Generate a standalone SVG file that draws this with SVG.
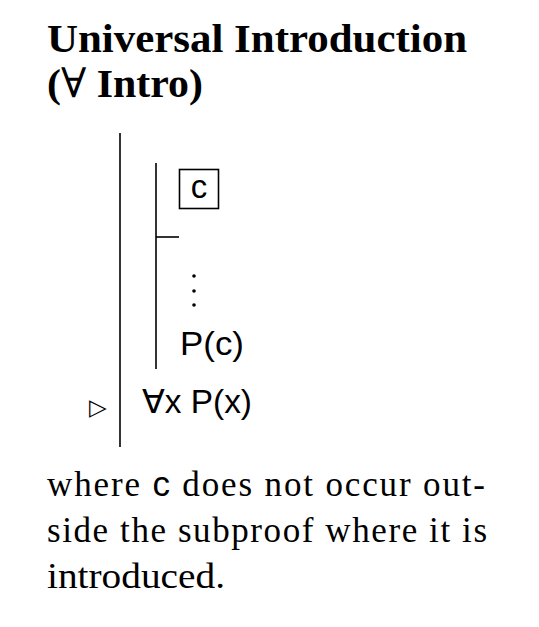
<svg xmlns="http://www.w3.org/2000/svg" width="539" height="627" viewBox="0 0 539 627">
<style>
.title{font-family:"Liberation Serif",serif;font-weight:bold;font-size:41px;fill:#000}
.body{font-family:"Liberation Serif",serif;font-size:35px;fill:#000}
.sans{font-family:"Liberation Sans","DejaVu Sans",sans-serif;font-size:33px;fill:#000}
.ln{stroke:#000;stroke-width:1.6;fill:none}
</style>
<rect width="539" height="627" fill="#fff"/>
<g id="title">
<text class="title" x="47" y="52" textLength="420" lengthAdjust="spacingAndGlyphs">Universal Introduction</text>
<text class="title" x="47" y="97" textLength="156" lengthAdjust="spacingAndGlyphs">(<tspan font-family="DejaVu Serif" font-weight="normal">∀</tspan> Intro)</text>
</g>
<g id="connectors">
<line class="ln" x1="120" y1="133" x2="120" y2="447"/>
<line class="ln" x1="156" y1="163" x2="156" y2="369"/>
<line class="ln" x1="156" y1="237" x2="179" y2="237"/>
</g>
<g id="box-c">
<rect class="ln" x="179.5" y="169.5" width="39" height="39" stroke-width="1.2"/>
<text class="sans" x="199" y="198" text-anchor="middle">c</text>
</g>
<g id="dots">
<circle cx="194" cy="276" r="1.8"/>
<circle cx="194" cy="291" r="1.8"/>
<circle cx="194" cy="305" r="1.8"/>
</g>
<g id="pc">
<text class="sans" x="180" y="355" textLength="64" lengthAdjust="spacingAndGlyphs">P(c)</text>
</g>
<g id="conclusion">
<text x="89" y="415" font-family="DejaVu Sans,sans-serif" font-size="23" fill="#000">▷</text>
<text class="sans" x="142" y="413" textLength="110" lengthAdjust="spacingAndGlyphs"><tspan font-family="DejaVu Sans,sans-serif">∀</tspan>x P(x)</text>
</g>
<g id="note">
<text class="body" x="47" y="496" textLength="438" lengthAdjust="spacing">where <tspan font-family="Liberation Sans,sans-serif">c</tspan> does not occur out-</text>
<text class="body" x="47" y="542" textLength="440" lengthAdjust="spacing">side the subproof where it is</text>
<text class="body" x="47" y="588" textLength="178" lengthAdjust="spacingAndGlyphs">introduced.</text>
</g>
</svg>
